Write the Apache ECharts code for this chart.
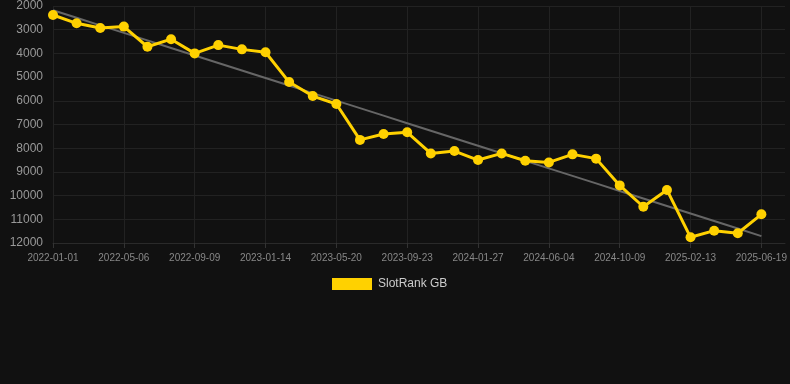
<!DOCTYPE html>
<html>
<head>
<meta charset="utf-8">
<script src="https://cdn.jsdelivr.net/npm/echarts@6/dist/echarts.min.js"></script>
<style>
html,body{margin:0;padding:0;background:#111111;}
#chart{width:790px;height:384px;}
</style>
</head>
<body>
<div id="chart"></div>
<script>
var categories = [
  '2022-01-01','2022-02-12','2022-03-25','2022-05-06','2022-06-17','2022-07-29',
  '2022-09-09','2022-10-21','2022-12-02','2023-01-14','2023-02-25','2023-04-08',
  '2023-05-20','2023-07-01','2023-08-12','2023-09-23','2023-11-04','2023-12-16',
  '2024-01-27','2024-03-09','2024-04-23','2024-06-04','2024-07-16','2024-08-28',
  '2024-10-09','2024-11-20','2025-01-01','2025-02-13','2025-03-27','2025-05-08',
  '2025-06-19'
];
var rankValues = [
  2380, 2730, 2930, 2870, 3720, 3400, 4000, 3650, 3830, 3950,
  5210, 5800, 6135, 7650, 7400, 7330, 8220, 8120, 8500, 8220,
  8530, 8600, 8260, 8440, 9570, 10470, 9760, 11760, 11480, 11590,
  10790
];
var seriesName = 'SlotRank GB';

// linear regression trend derived from the data
var n = rankValues.length, sx = 0, sy = 0, sxy = 0, sxx = 0;
for (var i = 0; i < n; i++) { sx += i; sy += rankValues[i]; sxy += i * rankValues[i]; sxx += i * i; }
var slope = (n * sxy - sx * sy) / (n * sxx - sx * sx);
var intercept = (sy - slope * sx) / n;
var trend = rankValues.map(function (v, i) { return intercept + slope * i; });

var chart = echarts.init(document.getElementById('chart'));
chart.setOption({
  backgroundColor: '#111111',
  animation: false,
  textStyle: { fontFamily: 'Liberation Sans, Arial, sans-serif' },
  grid: { left: 53, right: 5, top: 6, bottom: 141 },
  legend: {
    data: [seriesName],
    top: 278,
    left: 332,
    padding: 0,
    icon: 'rect',
    itemWidth: 40,
    itemHeight: 12,
    itemGap: 10,
    textStyle: { color: '#cccccc', fontSize: 12, padding: [0, 0, 0, 1] }
  },
  xAxis: {
    type: 'category',
    data: categories,
    boundaryGap: false,
    max: categories.length,
    axisLine: { show: true, lineStyle: { color: '#2a2a2a' } },
    axisTick: { show: true, interval: 2, lineStyle: { color: '#333' } },
    axisLabel: { interval: 2, color: '#888888', fontSize: 10, margin: 10 },
    splitLine: { show: true, interval: 2, lineStyle: { color: '#222222' } }
  },
  yAxis: {
    type: 'value',
    inverse: true,
    min: 2000,
    max: 12000,
    interval: 1000,
    axisLine: { show: false },
    axisTick: { show: false },
    axisLabel: { color: '#999999', fontSize: 12, margin: 10, formatter: function (v) { return String(v); } },
    splitLine: { show: true, lineStyle: { color: '#222222' } }
  },
  series: [
    {
      name: 'trend',
      type: 'line',
      data: trend,
      symbol: 'none',
      silent: true,
      lineStyle: { color: '#666666', width: 2 },
      z: 1
    },
    {
      name: seriesName,
      type: 'line',
      data: rankValues,
      symbol: 'circle',
      symbolSize: 10,
      itemStyle: { color: '#FFD100' },
      lineStyle: { color: '#FFD100', width: 3 },
      z: 2
    }
  ]
});
</script>
</body>
</html>
